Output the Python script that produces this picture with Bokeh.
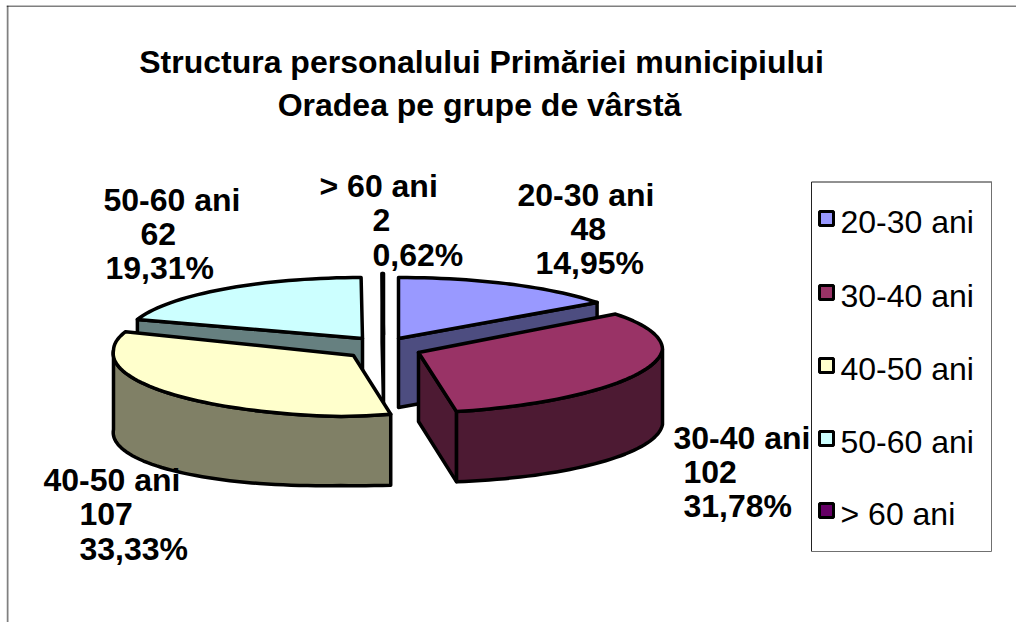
import numpy as np
from bokeh.plotting import figure
from bokeh.models import Range1d
from bokeh.core.properties import value
from bokeh.embed import file_html
from bokeh.resources import INLINE

title_lines = ["Structura personalului Primăriei municipiului", "Oradea pe grupe de vârstă"]
categories = ["20-30 ani", "30-40 ani", "40-50 ani", "50-60 ani", "> 60 ani"]
counts = [48, 102, 107, 62, 2]
percents = ["14,95%", "31,78%", "33,33%", "19,31%", "0,62%"]

top_colors = ["#9999FF", "#993366", "#FFFFCC", "#CCFFFF", "#660066"]
side_colors = ["#4D4D80", "#4D1A33", "#808066", "#668080", "#330033"]

# layout of the exploded 3-D pie (page pixels)
apex_x = [398, 418, 353, 362, 383]
apex_y = [338, 352, 355, 338, 334]
radius_x = [246, 244, 240, 237, 240]
lift = [0, 3, 5, 0, 0]  # perspective: the nearer slices bulge at their sides
RY, DEPTH, SHEAR = 61, 69, 12
SLIVER = 0.15          # the tiny last slice is drawn thinner, as in the source
paint_order = [4, 0, 3, 1, 2]

# label line anchors: (left x, centre y) for category, count, percent lines
label_pos = [
    [(517, 194), (570, 228), (535, 262)],
    [(673, 437), (683, 471), (683, 505)],
    [(43, 479), (79, 513), (79, 548)],
    [(103, 199), (140, 233), (105, 267)],
    [(319, 185), (372, 219), (372, 254)],
]

W, H = 1010, 617
X0, Y0 = 6, 5
p = figure(width=W, height=H, x_range=Range1d(X0, X0 + W), y_range=Range1d(Y0 + H, Y0),
           output_backend="svg", toolbar_location=None, min_border=0,
           margin=(5, 0, 0, 6), background_fill_color="white", border_fill_color="white")
p.axis.visible = False
p.grid.visible = False
p.outline_line_color = None

# outer chart frame
p.line([7, 7], [5, Y0 + H], line_color="#808080", line_width=2)
p.line([6, X0 + W], [5.5, 5.5], line_color="#000000", line_width=1)

# slice angles come from the counts
total = sum(counts)
edges = np.cumsum([0] + counts) / total * 360.0
edges[-2] = 360 - (360 - edges[-2]) * SLIVER


def pt(i, deg, drop=0.0):
    t = np.radians(deg)
    bulge = lift[i] * abs(np.sin(t))
    return (apex_x[i] + radius_x[i] * np.sin(t) - SHEAR * max(0.0, -np.cos(t)),
            apex_y[i] - RY * np.cos(t) + (drop + bulge if drop else -bulge))


def arc(i, a, b, drop=0.0):
    return [pt(i, d, drop) for d in np.linspace(a, b, max(2, int(abs(b - a) / 2) + 2))]


def face(pts, color):
    xs, ys = zip(*pts)
    p.patch(list(xs), list(ys), fill_color=color, line_color="black", line_width=3.5, line_join="round")


for i in paint_order:
    a, b = edges[i], edges[i + 1]
    apex = (apex_x[i], apex_y[i])
    low = (apex_x[i], apex_y[i] + DEPTH)
    if np.sin(np.radians(a)) < 0:
        face([apex, pt(i, a), pt(i, a, DEPTH), low], side_colors[i])
    if np.sin(np.radians(b)) > 0:
        face([apex, pt(i, b), pt(i, b, DEPTH), low], side_colors[i])
    lo, hi = max(a, 90), min(b, 270)
    if lo < hi:
        face(arc(i, lo, hi) + arc(i, hi, lo, DEPTH), side_colors[i])
    face([apex] + arc(i, a, b), top_colors[i])

FONT = value("Liberation Sans")


def text(x, y, s, bold=True, align="left"):
    p.text([x], [y], text=[s], text_font=FONT, text_font_size="32px",
           text_font_style="bold" if bold else "normal", text_align=align,
           text_baseline="middle", text_color="black")


text(481, 61, title_lines[0], align="center")
text(479, 104, title_lines[1], align="center")

for i, pos in enumerate(label_pos):
    for (x, y), s in zip(pos, [categories[i], str(counts[i]), percents[i]]):
        text(x, y, s)

# legend
p.line([811, 811, 991], [551, 181.5, 181.5], line_color="#222222", line_width=1)
p.line([811, 991, 991], [551, 551, 181], line_color="#707070", line_width=1)
legend_y = [218, 292, 365, 438, 510]
for c, col, y in zip(categories, top_colors, legend_y):
    p.rect([826], [y], width=14, height=14, fill_color=col, line_color="black", line_width=3)
    text(840, y + 3, c, bold=False)

open("out.html", "w").write(file_html(p, INLINE))
